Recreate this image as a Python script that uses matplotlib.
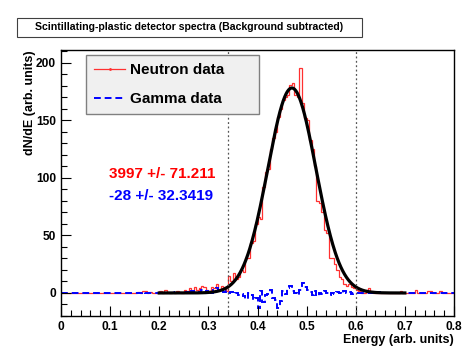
import numpy as np
import matplotlib
matplotlib.use("Agg")
import matplotlib.pyplot as plt
from matplotlib.lines import Line2D
from matplotlib.patches import Rectangle
from matplotlib.ticker import MultipleLocator

plt.rcParams['font.family'] = ['Liberation Sans', 'DejaVu Sans']
plt.rcParams['font.weight'] = 'bold'

# ---- data ----
bin_edges = np.round(np.arange(0, 0.8001, 0.005), 4)  # 160 bins

neutron_counts = [
    0, 0, 0, 0, 0, 0, 0, 0, 0, 0,
    0, 0, 0, 0, 0, 0, 0, 0, 0, 0,
    0, 0, 0, 0, 0, 0, 0, 0, 0, 0,
    0, 1, 0, 2, 2, 0, 1, 0, 0, 0,
    2, 0, 3, 1, 0, 1, 0, 2, 1, 0,
    3, 2, 4, 1, 5, 3, 4, 6, 5, 3,
    2, 5, 4, 8, 3, 6, 5, 2, 15, 10,
    17, 12, 14, 20, 18, 30, 30, 43, 45, 60,
    66, 64, 92, 105, 108, 125, 135, 140, 153, 160,
    168, 170, 172, 181, 182, 172, 170, 195, 165, 152,
    150, 133, 125, 110, 80, 78, 70, 55, 52, 30,
    30, 25, 20, 14, 12, 8, 6, 8, 5, 4,
    3, 2, 0, 0, 3, 4, 2, 0, 0, 0,
    0, 0, 0, 0, 0, 0, 0, 0, 2, 0,
    0, 0, 0, 0, 3, 0, 0, 0, 0, 2,
    2, 0, 0, 0, 2, 0, 0, 0, 0, 0,
]

gamma_counts = [
    0, 0, 0, 0, 0, 0, 0, 0, 0, 0,
    0, 0, 0, 0, 0, 0, 0, 0, 0, 0,
    0, 0, 0, 0, 0, 0, 0, 0, 0, 0,
    0, 0, 0, 1, 0, 0, 0, 0, 0, 0,
    0, 1, 0, 0, 0, 1, 0, 0, 0, 0,
    0, 1, 0, 2, 0, 0, 1, 3, 0, 2,
    1, 0, 3, 4, 2, 3, 1, 2, 0, 1,
    -1, 0, -2, -1, -3, -5, 0, -2, -6, -4,
    -13, 2, -8, -2, -1, 3, -4, -6, -13, -7,
    2, -1, 4, 6, 2, 0, -2, 3, 9, 5,
    3, 1, -2, 2, -3, 0, -1, 2, 0, -2,
    0, -1, 1, 0, -1, 2, 0, 1, -1, 0,
    0, 0, 0, 0, 0, 0, 0, 0, 0, 1,
    0, 0, 0, 0, 0, 0, 0, 0, 0, 0,
    0, 0, 0, 0, 0, 0, 0, 0, 0, 0,
    0, 0, 0, 0, 0, 0, 0, 0, 0, 0,
]

# Gaussian fit parameters
fit_amp = 178.0
fit_mean = 0.470
fit_sigma = 0.049
fit_range = (0.2, 0.7)

window_lines = [0.34, 0.6]

x_ticks = [0, 0.1, 0.2, 0.3, 0.4, 0.5, 0.6, 0.7, 0.8]
x_ticklabels = ['0', '0.1', '0.2', '0.3', '0.4', '0.5', '0.6', '0.7', '0.8']
y_ticks = [0, 50, 100, 150, 200]

neutron_result = "3997 +/- 71.211"
gamma_result = "-28 +/- 32.3419"

title_text = "Scintillating-plastic detector spectra (Background subtracted)"

# ---- figure ----
W, H = 463, 349
fig = plt.figure(figsize=(W / 100, H / 100), dpi=100)
ax = fig.add_axes([61 / W, 1 - 316 / H, (454 - 61) / W, (316 - 50) / H])

ax.stairs(neutron_counts, bin_edges, color='#ff3030', lw=0.9, baseline=None)
ax.stairs(gamma_counts, bin_edges, color='#0000ff', lw=1.4, baseline=None,
          linestyle=(0, (3.5, 2)))

xf = np.linspace(fit_range[0], fit_range[1], 400)
yf = fit_amp * np.exp(-0.5 * ((xf - fit_mean) / fit_sigma) ** 2)
ax.plot(xf, yf, color='black', lw=2.3)

for xv in window_lines:
    ax.axvline(xv, color='#555555', lw=0.9, linestyle=(0, (1.5, 2)))

ax.set_xticks(x_ticks)
ax.set_xticklabels(x_ticklabels)
ax.set_yticks(y_ticks)
ax.xaxis.set_minor_locator(MultipleLocator(0.02))
ax.yaxis.set_minor_locator(MultipleLocator(10))
ax.set_xlim(0, 0.8)
ax.set_ylim(-20, 211)
ax.tick_params(which='both', direction='in', top=False, right=False,
               labelsize=8.6, width=0.8)
ax.tick_params(which='major', length=7)
ax.tick_params(which='minor', length=4)
for lab in ax.get_xticklabels() + ax.get_yticklabels():
    lab.set_fontweight('bold')
for sp in ax.spines.values():
    sp.set_linewidth(1.0)

ax.set_xlabel("Energy (arb. units)", fontsize=9, fontweight='bold', loc='right',
              labelpad=1)
ax.set_ylabel("dN/dE (arb. units)", fontsize=9, fontweight='bold', loc='top',
              labelpad=0)

# result texts
ax.text(0.098, 103, neutron_result, color='#ff0000', fontsize=11,
        fontweight='bold', va='center', ha='left')
ax.text(0.098, 84, gamma_result, color='#0000ff', fontsize=11,
        fontweight='bold', va='center', ha='left')

# legend
handles = [
    Line2D([], [], color='#ff3030', lw=0.9, marker='.', markersize=2),
    Line2D([], [], color='#0000ff', lw=1.4, linestyle=(0, (3.5, 2))),
]
leg = ax.legend(handles, ["Neutron data", "Gamma data"],
                loc='upper left',
                bbox_to_anchor=((86 - 61) / (454 - 61), 1 - (55 - 50) / (316 - 50),
                                (259 - 86) / (454 - 61), 0),
                mode='expand', fontsize=11, frameon=True, fancybox=False,
                borderpad=0.55, labelspacing=0.95, handlelength=2.0,
                handletextpad=0.3, borderaxespad=0)
leg.get_frame().set_facecolor('#f0f0f0')
leg.get_frame().set_edgecolor('#808080')
leg.get_frame().set_linewidth(1.0)
leg.get_frame().set_alpha(1)
for t in leg.get_texts():
    t.set_fontweight('bold')

# title box
fig.patches.append(Rectangle((17 / W, 1 - 37 / H), (362 - 17) / W, 19 / H,
                             transform=fig.transFigure, facecolor='white',
                             edgecolor='#404040', lw=0.8))
fig.text((17 + 362) / 2 / W, 1 - 27.5 / H, title_text, fontsize=7.6,
         fontweight='bold', ha='center', va='center')

fig.savefig('out.png', dpi=100)
